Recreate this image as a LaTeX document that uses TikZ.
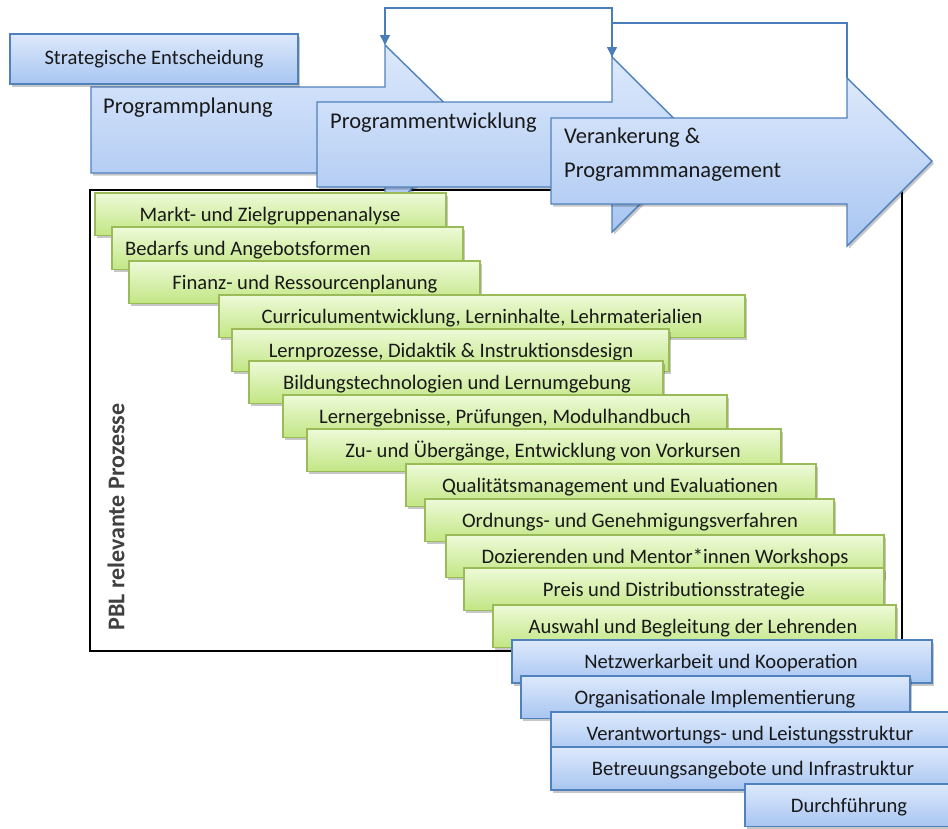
\documentclass[tikz,border=0pt]{standalone}
\usepackage{fontspec}
\setmainfont{Carlito}
\usetikzlibrary{arrows.meta,shadows}

\definecolor{blueline}{RGB}{79,129,189}
\definecolor{bluetop}{RGB}{221,233,252}
\definecolor{bluebot}{RGB}{168,197,241}
\definecolor{greenline}{RGB}{155,187,89}
\definecolor{greentop}{RGB}{237,250,216}
\definecolor{greenbot}{RGB}{194,230,132}
\definecolor{conncol}{RGB}{74,126,187}
\definecolor{txt}{RGB}{25,25,25}
\definecolor{sidetxt}{RGB}{64,64,64}

\tikzset{
  softshadow/.style={drop shadow={shadow xshift=2pt,shadow yshift=-2.5pt,opacity=0.22,fill=black}},
  bluebox/.style={draw=blueline,line width=1.4pt,top color=bluetop,bottom color=bluebot,softshadow},
  greenbox/.style={draw=greenline,line width=1.4pt,top color=greentop,bottom color=greenbot,softshadow},
  phasearrow/.style={draw=blueline,line width=1.4pt,top color=bluetop,bottom color=bluebot,line join=miter,softshadow},
  lbl/.style={anchor=base,inner sep=0pt,text=txt,font=\fontsize{20.6}{24}\selectfont},
  phaselbl/.style={anchor=base west,inner sep=0pt,text=txt,font=\fontsize{22.5}{27}\selectfont},
  loopline/.style={draw=conncol,line width=1.4pt,-{Triangle[width=10pt,length=10pt]}},
  frame/.style={draw=black,line width=1.2pt}
}

% box with text: style, name, x1, y1, x2, y2, text x, text (baseline sits a fixed distance below the top)
\newcommand{\procbox}[8]{%
  \path[#1] (#3,#4) rectangle (#5,#6);
  \node[lbl] (#2) at (#7,#4+28.5) {#8};
}

\begin{document}
\begin{tikzpicture}[x=1pt,y=-1pt]
\useasboundingbox (0,0) rectangle (948,828);

% frame around the PBL relevant processes
\draw[frame] (90,190) rectangle (902,651);

% phase arrows
\path[phasearrow] (91,87) -- (385,87) -- (385,45) -- (472,130) -- (385,215) -- (385,173) -- (91,173) -- cycle;
\coordinate (pp-top) at (385,45);
\node[phaselbl] (pp) at (103,113) {Programmplanung};

\path[phasearrow] (317,102) -- (612,102) -- (612,57) -- (700,144.5) -- (612,232) -- (612,187) -- (317,187) -- cycle;
\coordinate (pe-top) at (612,57);
\node[phaselbl] (pe) at (330,128) {Programmentwicklung};

\path[phasearrow] (551,118) -- (847,118) -- (847,78) -- (932,161) -- (847,246) -- (847,204) -- (551,204) -- cycle;
\coordinate (va-top) at (847,78);
\node[phaselbl] (va1) at (564,143) {Verankerung \&};
\node[phaselbl] (va2) at (564,177) {Programmmanagement};

% strategic decision
\path[bluebox] (10,34) rectangle (298,84);
\node[lbl] (se) at (154,64) {Strategische Entscheidung};

% feedback loops
\draw[loopline] (va-top) -- ++(0,-55) -| (pe-top);
\draw[loopline] (pe-top) -- ++(0,-49) -| (pp-top);

% PBL relevant processes
\procbox{greenbox}{g1}{95}{193}{446}{235.5}{270}{Markt- und Zielgruppenanalyse}
\procbox{greenbox}{g2}{112}{227}{463}{269.5}{248}{Bedarfs und Angebotsformen}
\procbox{greenbox}{g3}{129}{261}{480}{303.5}{305}{Finanz- und Ressourcenplanung}
\procbox{greenbox}{g4}{219}{295}{745}{337.5}{482}{Curriculumentwicklung, Lerninhalte, Lehrmaterialien}
\procbox{greenbox}{g5}{232}{329}{669}{371.5}{451}{Lernprozesse, Didaktik \& Instruktionsdesign}
\procbox{greenbox}{g6}{249}{361}{663}{403.5}{457}{Bildungstechnologien und Lernumgebung}
\procbox{greenbox}{g7}{283}{395}{727}{437.5}{505}{Lernergebnisse, Prüfungen, Modulhandbuch}
\procbox{greenbox}{g8}{307}{429}{781}{471.5}{543}{Zu- und Übergänge, Entwicklung von Vorkursen}
\procbox{greenbox}{g9}{406}{464}{816}{506.5}{610}{Qualitätsmanagement und Evaluationen}
\procbox{greenbox}{g10}{425}{499}{834}{541.5}{630}{Ordnungs- und Genehmigungsverfahren}
\procbox{greenbox}{g11}{446}{535}{884}{577.5}{665}{Dozierenden und Mentor*innen Workshops}
\procbox{greenbox}{g12}{464}{568}{884}{610.5}{674}{Preis und Distributionsstrategie}
\procbox{greenbox}{g13}{493}{605}{896}{647.5}{693}{Auswahl und Begleitung der Lehrenden}

\node[rotate=90,inner sep=0pt,text=sidetxt,font=\fontsize{24}{28}\selectfont\bfseries] (pbl) at (116,517) {PBL relevante Prozesse};

% further processes
\procbox{bluebox}{b1}{512}{640}{932}{683}{721}{Netzwerkarbeit und Kooperation}
\procbox{bluebox}{b2}{521}{676}{910}{718.5}{715}{Organisationale Implementierung}
\procbox{bluebox}{b3}{551}{712}{952}{755}{750}{Verantwortungs- und Leistungsstruktur}
\procbox{bluebox}{b4}{551}{747}{952}{790}{753}{Betreuungsangebote und Infrastruktur}
\procbox{bluebox}{b5}{745}{784}{952}{826.5}{849}{Durchführung}

\end{tikzpicture}
\end{document}
